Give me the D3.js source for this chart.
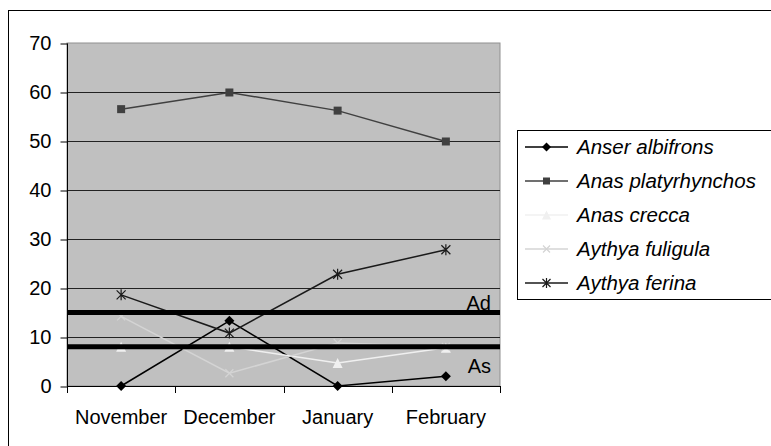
<!DOCTYPE html>
<html><head><meta charset="utf-8">
<script src="https://cdn.jsdelivr.net/npm/d3@7"></script>
<style>body{margin:0;background:#fff;}svg{display:block;font-family:"Liberation Sans",Arial,sans-serif;}</style>
</head><body><svg id="c" width="771" height="446"></svg>
<script>
const months = ["November","December","January","February"];
const anserAlbifrons = [0, 13.3, 0, 2.0];
const anasPlatyrhynchos = [56.5, 59.9, 56.2, 49.9];
const anasCrecca = [8, 8, 4.7, 7.8];
const aythyaFuligula = [14.2, 2.6, 8.8, 8.0];
const aythyaFerina = [18.6, 10.8, 22.8, 27.8];
const yTicks = [0,10,20,30,40,50,60,70];
const thresholds = [{label:"Ad", value:15},{label:"As", value:8}];

const series = [
  {name:"Anser albifrons", values:anserAlbifrons, color:"#000000", marker:"diamond"},
  {name:"Anas platyrhynchos", values:anasPlatyrhynchos, color:"#404040", marker:"square"},
  {name:"Anas crecca", values:anasCrecca, color:"#f0f0f0", marker:"triangle"},
  {name:"Aythya fuligula", values:aythyaFuligula, color:"#d4d4d4", marker:"x"},
  {name:"Aythya ferina", values:aythyaFerina, color:"#1a1a1a", marker:"asterisk"}
];

const svg = d3.select("#c");
const L=67, R=500, T=43, B=386;
const x = d3.scaleBand().domain(months).range([L,R]);
const y = d3.scaleLinear().domain([0,70]).range([B,T]);

// outer border
svg.append("rect").attr("x",8.5).attr("y",10.5).attr("width",800).attr("height",500)
  .attr("fill","#fff").attr("stroke","#000").attr("stroke-width",1);

// plot area
svg.append("rect").attr("x",L).attr("y",T).attr("width",R-L).attr("height",B-T)
  .attr("fill","#c0c0c0").attr("stroke","#909090").attr("stroke-width",1);

// gridlines
svg.append("g").selectAll("line").data(yTicks.filter(d=>d>0&&d<70)).join("line")
  .attr("x1",L).attr("x2",R).attr("y1",d=>Math.round(y(d))+0.5).attr("y2",d=>Math.round(y(d))+0.5)
  .attr("stroke","#222").attr("stroke-width",1);

// y axis
const yAxis = d3.axisLeft(y).tickValues(yTicks).tickSize(7).tickPadding(9);
const gy = svg.append("g").attr("transform",`translate(${L+0.5},0.5)`).call(yAxis);
gy.select(".domain").attr("stroke","#000").attr("d",`M-0,${T}V${B}`);
gy.selectAll("text").attr("font-size",20).attr("fill","#000").attr("font-family","Liberation Sans, Arial, sans-serif");
gy.selectAll(".tick line").attr("stroke","#000");

// x axis
const xAxis = d3.axisBottom(x).tickSize(0).tickPadding(0);
const gx = svg.append("g").attr("transform",`translate(0,${B+0.5})`).call(xAxis);
gx.select(".domain").attr("stroke","#000").attr("d",`M${L},0H${R}`);
gx.selectAll(".tick line").remove();
gx.selectAll("text").attr("font-size",20).attr("fill","#000").attr("dy",null).attr("y",37)
  .attr("font-family","Liberation Sans, Arial, sans-serif");
// category boundary ticks
const bounds = months.map(m=>x(m)).concat([R]);
svg.append("g").selectAll("line").data(bounds).join("line")
  .attr("x1",d=>Math.round(d)+0.5).attr("x2",d=>Math.round(d)+0.5).attr("y1",B).attr("y2",B+7)
  .attr("stroke","#000");

const cx = m => x(m)+x.bandwidth()/2;
const line = d3.line().x((d,i)=>cx(months[i])).y(d=>y(d));

function drawMarker(g, type, color, px, py, s){
  if(type==="diamond"){
    g.append("path").attr("d",`M${px},${py-s/2}L${px+s/2},${py}L${px},${py+s/2}L${px-s/2},${py}Z`).attr("fill",color);
  } else if(type==="square"){
    g.append("rect").attr("x",px-s/2).attr("y",py-s/2).attr("width",s).attr("height",s).attr("fill",color);
  } else if(type==="triangle"){
    g.append("path").attr("d",`M${px},${py-s/2}L${px+s/2},${py+s/2}L${px-s/2},${py+s/2}Z`).attr("fill",color);
  } else if(type==="x"){
    const h=s/2;
    g.append("path").attr("d",`M${px-h},${py-h}L${px+h},${py+h}M${px-h},${py+h}L${px+h},${py-h}`).attr("stroke",color).attr("stroke-width",1.2);
  } else if(type==="asterisk"){
    const h=s/2;
    g.append("path").attr("d",`M${px-h},${py-h}L${px+h},${py+h}M${px-h},${py+h}L${px+h},${py-h}M${px},${py-h-1}L${px},${py+h+1}`).attr("stroke",color).attr("stroke-width",1.2);
  }
}
const msize = {diamond:10, square:8, triangle:10, x:8, asterisk:9};

const gs = svg.append("g");
series.forEach(s=>{
  const g = gs.append("g");
  g.append("path").attr("d",line(s.values)).attr("fill","none").attr("stroke",s.color).attr("stroke-width",1.5);
  s.values.forEach((v,i)=>drawMarker(g, s.marker, s.color, cx(months[i]), y(v), msize[s.marker]));
});

// threshold lines
svg.append("g").selectAll("line").data(thresholds).join("line")
  .attr("x1",L).attr("x2",R).attr("y1",d=>y(d.value)).attr("y2",d=>y(d.value))
  .attr("stroke","#000").attr("stroke-width",5);
svg.append("g").selectAll("text").data(thresholds).join("text")
  .attr("x",491).attr("text-anchor","end")
  .attr("y",(d,i)=> i===0 ? y(d.value)-3 : y(d.value)+26)
  .attr("font-size",20).attr("fill","#000").text(d=>d.label);

// legend
const lg = svg.append("g");
lg.append("rect").attr("x",517.5).attr("y",130.5).attr("width",300).attr("height",169)
  .attr("fill","#fff").attr("stroke","#000").attr("stroke-width",1);
series.forEach((s,i)=>{
  const ly = 147 + i*34;
  lg.append("line").attr("x1",525).attr("x2",568).attr("y1",ly).attr("y2",ly).attr("stroke",s.color).attr("stroke-width",1.5);
  drawMarker(lg, s.marker, s.color, 546.5, ly, msize[s.marker]-1);
  lg.append("text").attr("x",577).attr("y",ly+7).attr("font-size",20.5).attr("font-style","italic").attr("fill","#000").text(s.name);
});
</script></body></html>
